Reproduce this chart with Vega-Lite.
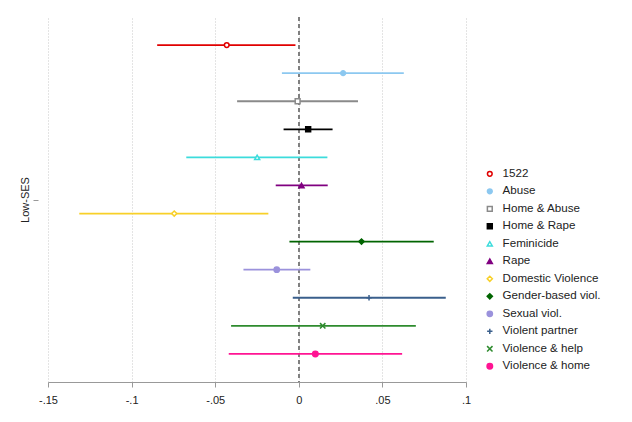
{
  "$schema": "https://vega.github.io/schema/vega-lite/v6.json",
  "autosize": "none",
  "padding": {"left": 48, "top": 17, "right": 166, "bottom": 40},
  "width": 418,
  "height": 365,
  "background": "white",
  "config": {
    "view": {"stroke": null},
    "font": "Liberation Sans",
    "axis": {"labelFont": "Liberation Sans", "titleFont": "Liberation Sans"},
    "legend": {"labelFont": "Liberation Sans"}
  },
  "data": {
    "values": [
      {"series": "1522", "row": 1, "est": -0.0431, "lo": -0.0847, "hi": -0.002},
      {"series": "Abuse", "row": 2, "est": 0.0265, "lo": -0.0101, "hi": 0.0628},
      {"series": "Home & Abuse", "row": 3, "est": -0.0007, "lo": -0.0369, "hi": 0.0354},
      {"series": "Home & Rape", "row": 4, "est": 0.0056, "lo": -0.0091, "hi": 0.0202},
      {"series": "Feminicide", "row": 5, "est": -0.0249, "lo": -0.0673, "hi": 0.0171},
      {"series": "Rape", "row": 6, "est": 0.0016, "lo": -0.0138, "hi": 0.0173},
      {"series": "Domestic Violence", "row": 7, "est": -0.0745, "lo": -0.1313, "hi": -0.0182},
      {"series": "Gender-based viol.", "row": 8, "est": 0.0375, "lo": -0.0056, "hi": 0.0807},
      {"series": "Sexual viol.", "row": 9, "est": -0.0132, "lo": -0.0331, "hi": 0.0069},
      {"series": "Violent partner", "row": 10, "est": 0.042, "lo": -0.0036, "hi": 0.0879},
      {"series": "Violence & help", "row": 11, "est": 0.0143, "lo": -0.0405, "hi": 0.07},
      {"series": "Violence & home", "row": 12, "est": 0.0099, "lo": -0.0419, "hi": 0.0618}
    ]
  },
  "layer": [
    {
      "mark": {"type": "rule", "color": "#808080", "strokeDash": [4, 3], "strokeWidth": 1.2},
      "encoding": {
        "x": {"datum": 0, "type": "quantitative"}
      }
    },
    {
      "mark": {"type": "rule", "strokeWidth": 1.8},
      "encoding": {
        "y": {
          "field": "row", "type": "quantitative",
          "scale": {"domain": [0, 13], "reverse": true, "nice": false, "zero": false},
          "axis": {
            "values": [6.5], "labels": false, "grid": false, "domain": false,
            "tickSize": 5, "tickColor": "#999999", "offset": 10,
            "title": "Low-SES", "titleFontSize": 11, "titleFontWeight": "normal",
            "titleColor": "#222222", "titlePadding": 2
          }
        },
        "x": {
          "field": "lo", "type": "quantitative",
          "scale": {"domain": [-0.15, 0.1], "nice": false, "zero": false},
          "axis": {
            "values": [-0.15, -0.1, -0.05, 0, 0.05, 0.1],
            "labelExpr": "replace(toString(datum.value), regexp('^(-?)0\\\\.'), '$1.')",
            "labelFlush": false,
            "title": null,
            "grid": true, "gridDash": [1, 2], "gridColor": "#c8c8c8", "gridWidth": 1,
            "domainColor": "#999999", "tickColor": "#999999", "tickSize": 5,
            "labelFontSize": 11, "labelColor": "#222222", "labelPadding": 7
          }
        },
        "x2": {"field": "hi"},
        "stroke": {
          "field": "series", "type": "nominal",
          "scale": {
            "domain": ["1522", "Abuse", "Home & Abuse", "Home & Rape", "Feminicide", "Rape", "Domestic Violence", "Gender-based viol.", "Sexual viol.", "Violent partner", "Violence & help", "Violence & home"],
            "range": ["#e00000", "#8cc8f0", "#8a8a8a", "#000000", "#3cdcdc", "#800080", "#f8d028", "#006400", "#9b92dc", "#3a5f8c", "#2e8b2e", "#ff1493"]
          },
          "legend": {
            "orient": "none", "legendX": 436, "legendY": 151, "title": null,
            "labelFontSize": 11.6, "labelColor": "#222222", "rowPadding": 4.5,
            "symbolStrokeWidth": 1.5, "labelOffset": 7, "padding": 0
          }
        }
      }
    },
    {
      "mark": {"type": "point", "filled": true, "strokeWidth": 1.5, "opacity": 1},
      "encoding": {
        "y": {"field": "row", "type": "quantitative"},
        "x": {"field": "est", "type": "quantitative"},
        "stroke": {
          "field": "series", "type": "nominal",
          "legend": {
            "orient": "none", "legendX": 436, "legendY": 151, "title": null,
            "labelFontSize": 11.6, "labelColor": "#222222", "rowPadding": 4.5,
            "symbolStrokeWidth": 1.5, "labelOffset": 7, "padding": 0
          }
        },
        "fill": {
          "field": "series", "type": "nominal",
          "scale": {
            "domain": ["1522", "Abuse", "Home & Abuse", "Home & Rape", "Feminicide", "Rape", "Domestic Violence", "Gender-based viol.", "Sexual viol.", "Violent partner", "Violence & help", "Violence & home"],
            "range": ["#ffffff", "#8cc8f0", "#ffffff", "#000000", "#ffffff", "#800080", "#ffffff", "#006400", "#9b92dc", "#3a5f8c", "#2e8b2e", "#ff1493"]
          }
        },
        "shape": {
          "field": "series", "type": "nominal",
          "scale": {
            "domain": ["1522", "Abuse", "Home & Abuse", "Home & Rape", "Feminicide", "Rape", "Domestic Violence", "Gender-based viol.", "Sexual viol.", "Violent partner", "Violence & help", "Violence & home"],
            "range": ["circle", "circle", "square", "square", "triangle-up", "triangle-up", "diamond", "diamond", "circle", "M-1,0H1M0,-1V1", "M-1,-1L1,1M-1,1L1,-1", "circle"]
          }
        },
        "size": {
          "field": "series", "type": "nominal",
          "scale": {
            "domain": ["1522", "Abuse", "Home & Abuse", "Home & Rape", "Feminicide", "Rape", "Domestic Violence", "Gender-based viol.", "Sexual viol.", "Violent partner", "Violence & help", "Violence & home"],
            "range": [22, 30, 22, 30, 30, 36, 30, 36, 55, 36, 18, 30]
          }
        }
      }
    }
  ]
}
